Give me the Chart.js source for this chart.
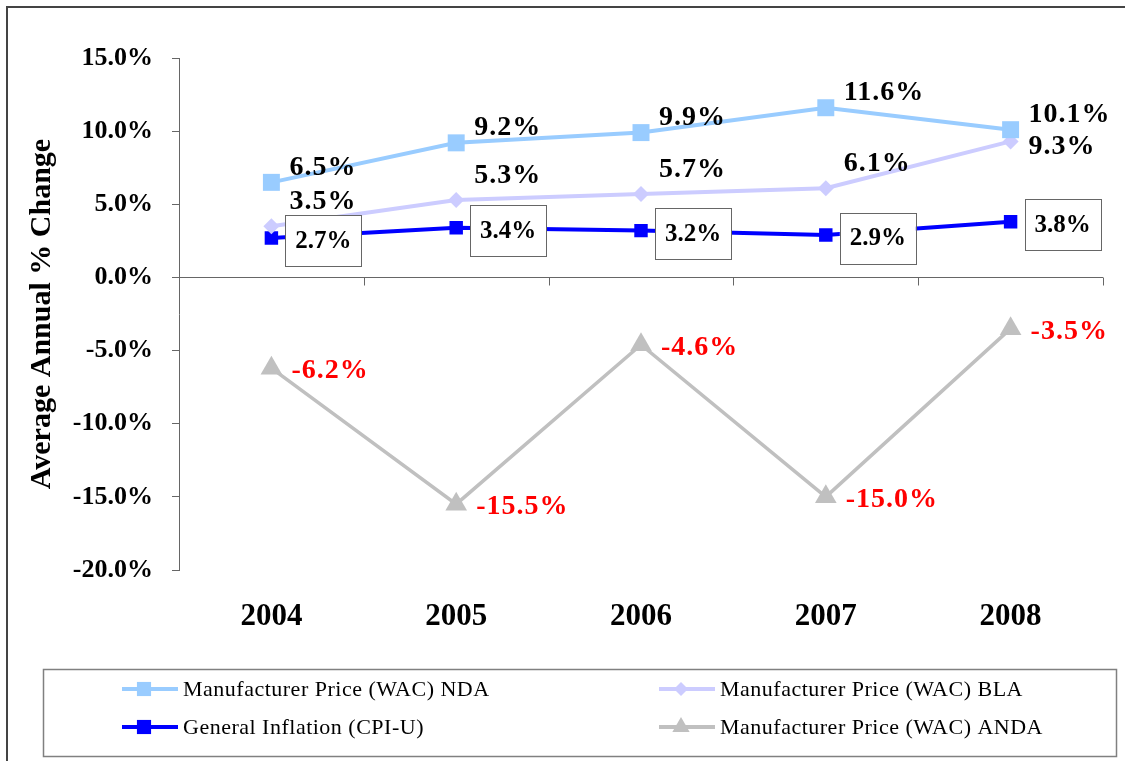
<!DOCTYPE html>
<html lang="en">
<head>
<meta charset="UTF-8">
<title>Average Annual % Change</title>
<script src="https://cdn.jsdelivr.net/npm/chart.js"></script>
<style>
  html, body { margin: 0; padding: 0; background: #fff; }
</style>
</head>
<body>
<canvas id="priceChart" width="1125" height="761"></canvas>
<script>
// data
const years = ['2004', '2005', '2006', '2007', '2008'];
const ndaValues = [6.5, 9.2, 9.9, 11.6, 10.1];
const blaValues = [3.5, 5.3, 5.7, 6.1, 9.3];
const cpiValues = [2.7, 3.4, 3.2, 2.9, 3.8];
const andaValues = [-6.2, -15.5, -4.6, -15.0, -3.5];
const yTicks = [-20, -15, -10, -5, 0, 5, 10, 15];
const seriesNames = [
    'Manufacturer Price (WAC) NDA',
    'Manufacturer Price (WAC) BLA',
    'General Inflation (CPI-U)',
    'Manufacturer Price (WAC) ANDA'
];

const SERIF = '"Liberation Serif", "Times New Roman", serif';
const pct = v => v.toFixed(1) + '%';

function drawMarker(ctx, style, x, y, r, color) {
    ctx.save();
    ctx.fillStyle = color;
    ctx.beginPath();
    if (style === 'rect') {
        const s = Math.SQRT1_2 * r;
        ctx.rect(x - s, y - s, 2 * s, 2 * s);
    } else if (style === 'rectRot') {
        ctx.moveTo(x - r, y); ctx.lineTo(x, y - r); ctx.lineTo(x + r, y); ctx.lineTo(x, y + r);
    } else {
        ctx.moveTo(x, y - r);
        ctx.lineTo(x + r * 0.866, y + r * 0.5);
        ctx.lineTo(x - r * 0.866, y + r * 0.5);
    }
    ctx.closePath();
    ctx.fill();
    ctx.restore();
}

const decor = {
    id: 'decor',
    beforeDraw(chart) {
        const ctx = chart.ctx;
        ctx.save();
        ctx.fillStyle = '#fff';
        ctx.fillRect(0, 0, chart.width, chart.height);
        ctx.strokeStyle = '#444';
        ctx.lineWidth = 2;
        ctx.strokeRect(7, 7, chart.width + 20, chart.height + 20);
        ctx.restore();
    },
    beforeDatasetsDraw(chart) {
        // category axis sits on the zero line
        const ctx = chart.ctx, x = chart.scales.x, y = chart.scales.y;
        const y0 = Math.round(y.getPixelForValue(0)) + 0.5;
        const half = (x.getPixelForValue(1) - x.getPixelForValue(0)) / 2;
        ctx.save();
        ctx.strokeStyle = '#666';
        ctx.lineWidth = 1;
        ctx.beginPath();
        ctx.moveTo(chart.chartArea.left, y0);
        ctx.lineTo(chart.chartArea.right, y0);
        years.forEach((_, i) => {
            const tx = Math.round(x.getPixelForValue(i) + half) + 0.5;
            ctx.moveTo(tx, y0);
            ctx.lineTo(tx, y0 + 8);
        });
        ctx.stroke();
        ctx.restore();
    },
    afterDatasetsDraw(chart) {
        const ctx = chart.ctx;
        ctx.save();
        ctx.textBaseline = 'middle';
        chart.data.datasets.forEach((ds, di) => {
            const meta = chart.getDatasetMeta(di);
            meta.data.forEach((pt, i) => {
                const text = pct(ds.data[i]);
                const last = i === ds.data.length - 1;
                if (ds.labelBox) {
                    const bx = pt.x + 14, by = pt.y + 3;
                    ctx.fillStyle = '#fff';
                    ctx.fillRect(bx, by - 25.5, 76, 51);
                    ctx.strokeStyle = '#666';
                    ctx.lineWidth = 1;
                    ctx.strokeRect(Math.round(bx) + 0.5, Math.round(by - 25.5) + 0.5, 76, 51);
                    ctx.font = 'bold 25px ' + SERIF;
                    ctx.letterSpacing = '0px';
                    ctx.fillStyle = '#000';
                    ctx.textAlign = 'center';
                    ctx.fillText(text, bx + 38, by + 1);
                } else {
                    ctx.font = 'bold 28px ' + SERIF;
                    ctx.letterSpacing = '1px';
                    ctx.fillStyle = ds.labelColor;
                    ctx.textAlign = 'left';
                    const dy = (last && ds.labelDyLast !== undefined) ? ds.labelDyLast : ds.labelDy;
                    ctx.fillText(text, pt.x + ds.labelDx, pt.y + dy);
                }
            });
        });
        ctx.restore();
    },
    afterDraw(chart) {
        // boxed two-column legend
        const ctx = chart.ctx;
        ctx.save();
        ctx.strokeStyle = '#808080';
        ctx.lineWidth = 1.5;
        ctx.strokeRect(43.5, 669.5, 1073, 87);
        const colX = [122, 659];
        const rowY = [689, 727];
        ctx.font = '22px ' + SERIF;
        ctx.letterSpacing = '0.5px';
        ctx.textBaseline = 'middle';
        ctx.textAlign = 'left';
        chart.data.datasets.forEach((ds, i) => {
            const lx = colX[i % 2], ly = rowY[Math.floor(i / 2)];
            ctx.strokeStyle = ds.borderColor;
            ctx.lineWidth = 4;
            ctx.beginPath();
            ctx.moveTo(lx, ly);
            ctx.lineTo(lx + 56, ly);
            ctx.stroke();
            drawMarker(ctx, ds.pointStyle, lx + 22, ly, ds.legendRadius, ds.borderColor);
            ctx.fillStyle = '#000';
            ctx.fillText(ds.label, lx + 61, ly + 1);
        });
        ctx.restore();
    }
};

new Chart(document.getElementById('priceChart'), {
    type: 'line',
    data: {
        labels: years,
        datasets: [
            {
                label: seriesNames[0], data: ndaValues,
                borderColor: '#99CCFF', backgroundColor: '#99CCFF', borderWidth: 4,
                pointStyle: 'rect', pointRadius: 12, pointBorderWidth: 0, legendRadius: 10,
                labelColor: '#000', labelDx: 18, labelDy: -15
            },
            {
                label: seriesNames[1], data: blaValues,
                borderColor: '#CCCCFF', backgroundColor: '#CCCCFF', borderWidth: 4,
                pointStyle: 'rectRot', pointRadius: 8, pointBorderWidth: 0, legendRadius: 7,
                labelColor: '#000', labelDx: 18, labelDy: -24, labelDyLast: 5
            },
            {
                label: seriesNames[2], data: cpiValues,
                borderColor: '#0000FF', backgroundColor: '#0000FF', borderWidth: 4,
                pointStyle: 'rect', pointRadius: 9.5, pointBorderWidth: 0, legendRadius: 10,
                labelBox: true
            },
            {
                label: seriesNames[3], data: andaValues,
                borderColor: '#C0C0C0', backgroundColor: '#C0C0C0', borderWidth: 3.5,
                pointStyle: 'triangle', pointRadius: 12.5, pointBorderWidth: 0, legendRadius: 10,
                labelColor: '#FF0000', labelDx: 20, labelDy: 3
            }
        ]
    },
    options: {
        responsive: false,
        animation: false,
        layout: { padding: { top: 58, right: 22, left: 0, bottom: 0 } },
        elements: { line: { tension: 0 } },
        plugins: { legend: { display: false }, tooltip: { enabled: false } },
        scales: {
            x: {
                type: 'category',
                offset: true,
                grid: { display: false, offset: true },
                border: { display: false },
                ticks: { color: '#000', font: { family: SERIF, size: 31, weight: 'bold' }, padding: 20 },
                afterFit: s => { s.height = 191; }
            },
            y: {
                min: -20, max: 15,
                afterBuildTicks: s => { s.ticks = yTicks.map(v => ({ value: v })); },
                grid: { drawOnChartArea: false, drawTicks: true, tickLength: 7, color: '#666' },
                border: { display: true, color: '#666', width: 1 },
                ticks: {
                    color: '#000', padding: 19,
                    font: { family: SERIF, size: 26, weight: 'bold' },
                    callback: v => pct(v)
                },
                title: {
                    display: true, text: 'Average Annual % Change', color: '#000',
                    font: { family: SERIF, size: 30, weight: 'bold' },
                    padding: { top: 24, bottom: 0 }
                },
                afterFit: s => { s.width = 179; }
            }
        }
    },
    plugins: [decor]
});
</script>
</body>
</html>
